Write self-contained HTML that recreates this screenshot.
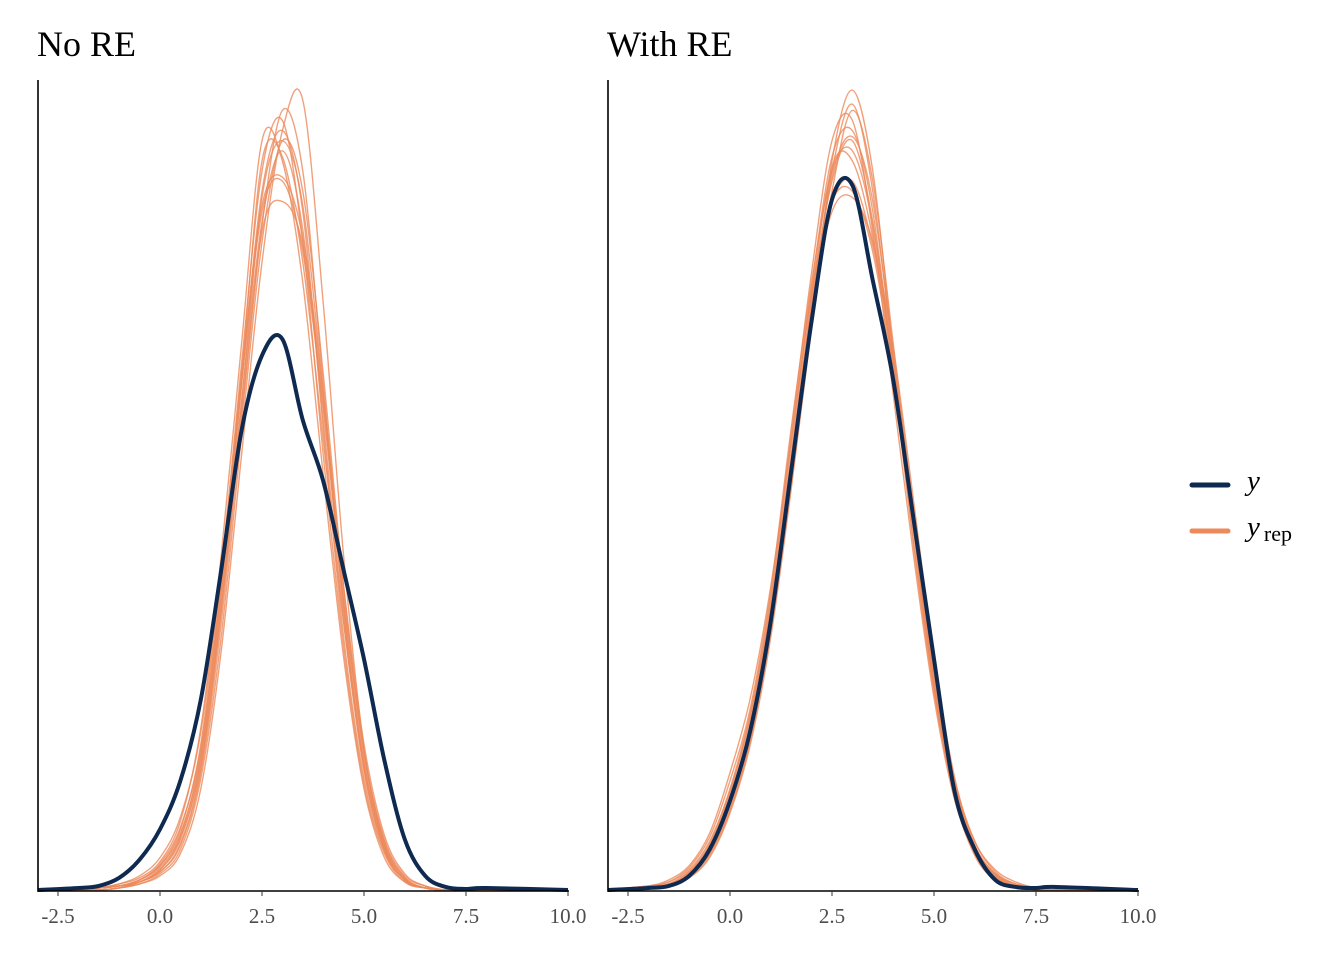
<!DOCTYPE html>
<html><head><meta charset="utf-8"><style>
body{margin:0;background:#fff;}
svg{display:block;font-family:"Liberation Serif",serif;}
</style></head><body>
<svg id="chart" width="1344" height="960" xmlns="http://www.w3.org/2000/svg">
<text x="37" y="56" font-size="36" fill="#000">No RE</text>
<text x="607" y="56" font-size="36" fill="#000">With RE</text>
<g>
<line x1="1192" y1="485" x2="1228" y2="485" stroke="#0f2a50" stroke-width="5" stroke-linecap="round"/>
<text x="1247" y="490" font-size="29" font-style="italic">y</text>
<line x1="1192" y1="531" x2="1228" y2="531" stroke="#ec8a5b" stroke-width="5" stroke-linecap="round"/>
<text x="1247" y="536" font-size="29" font-style="italic">y<tspan font-style="normal" font-size="22" dx="4" dy="5">rep</tspan></text>
</g>
</svg>
<script>
const xGrid=[-3,-2,-1.5,-1,-0.5,0,0.5,1,1.5,2,2.5,3,3.5,4,4.5,5,5.5,6,6.5,7,7.5,8,10];
const xTicks=[-2.5,0,2.5,5,7.5,10];
const xTickLabels=["-2.5","0.0","2.5","5.0","7.5","10.0"];
const yLeft=[0,0.001,0.002,0.006,0.015,0.030,0.054,0.094,0.158,0.227,0.264,0.272,0.232,0.202,0.158,0.114,0.064,0.025,0.007,0.0015,0.0005,0.001,0];
const yRight=[0,0.001,0.002,0.007,0.020,0.044,0.079,0.133,0.207,0.281,0.341,0.348,0.301,0.252,0.183,0.114,0.049,0.020,0.005,0.0015,0.001,0.0015,0];
const repsLeft=[
[0,0,0.001,0.002,0.004,0.010,0.025,0.064,0.143,0.242,0.330,0.365,0.326,0.232,0.133,0.059,0.020,0.005,0.001,0,0,0,0],
[0,0,0.001,0.002,0.005,0.012,0.030,0.072,0.155,0.260,0.355,0.380,0.320,0.215,0.120,0.052,0.018,0.004,0.001,0,0,0,0],
[0,0,0.001,0.003,0.006,0.014,0.034,0.080,0.165,0.270,0.370,0.360,0.300,0.205,0.115,0.050,0.016,0.004,0.001,0,0,0,0],
[0,0,0,0.001,0.003,0.008,0.020,0.055,0.125,0.225,0.320,0.370,0.345,0.255,0.150,0.068,0.024,0.006,0.001,0,0,0,0],
[0,0,0,0.001,0.003,0.007,0.018,0.050,0.118,0.215,0.310,0.375,0.390,0.290,0.165,0.070,0.022,0.005,0.001,0,0,0,0],
[0,0,0.001,0.002,0.004,0.011,0.027,0.068,0.150,0.250,0.335,0.350,0.315,0.238,0.142,0.065,0.023,0.006,0.001,0,0,0,0],
[0,0,0.001,0.002,0.005,0.012,0.028,0.066,0.145,0.250,0.345,0.375,0.335,0.228,0.125,0.055,0.019,0.005,0.001,0,0,0,0],
[0,0,0.001,0.002,0.004,0.010,0.026,0.062,0.138,0.235,0.325,0.340,0.318,0.240,0.145,0.068,0.025,0.007,0.002,0,0,0,0],
[0,0,0,0.001,0.004,0.009,0.022,0.058,0.132,0.232,0.328,0.385,0.355,0.250,0.140,0.060,0.020,0.005,0.001,0,0,0,0],
[0,0,0.001,0.002,0.005,0.013,0.031,0.070,0.150,0.255,0.360,0.362,0.310,0.222,0.132,0.062,0.022,0.006,0.001,0,0,0,0],
[0,0,0.001,0.003,0.007,0.016,0.036,0.078,0.158,0.255,0.338,0.352,0.322,0.245,0.150,0.072,0.027,0.008,0.002,0,0,0,0],
[0,0,0,0.001,0.004,0.009,0.023,0.060,0.138,0.240,0.342,0.370,0.338,0.245,0.138,0.062,0.021,0.005,0.001,0,0,0,0]
];
const repsRight=[
[0,0.001,0.003,0.008,0.020,0.045,0.080,0.135,0.210,0.290,0.350,0.370,0.330,0.260,0.180,0.105,0.050,0.020,0.007,0.002,0.001,0,0],
[0,0.002,0.004,0.010,0.024,0.050,0.088,0.145,0.225,0.305,0.370,0.380,0.325,0.245,0.165,0.095,0.045,0.018,0.006,0.002,0.001,0,0],
[0,0.001,0.002,0.007,0.018,0.040,0.074,0.128,0.200,0.280,0.345,0.385,0.350,0.270,0.185,0.108,0.052,0.021,0.008,0.003,0.001,0,0],
[0,0.001,0.003,0.009,0.022,0.048,0.085,0.140,0.215,0.295,0.340,0.350,0.318,0.262,0.188,0.112,0.055,0.022,0.008,0.002,0.001,0,0],
[0,0.002,0.004,0.011,0.026,0.054,0.090,0.148,0.228,0.300,0.355,0.365,0.328,0.255,0.172,0.100,0.046,0.017,0.005,0.002,0,0,0],
[0,0.001,0.002,0.006,0.016,0.038,0.072,0.125,0.198,0.278,0.360,0.395,0.355,0.265,0.178,0.102,0.048,0.019,0.007,0.002,0.001,0,0],
[0,0.001,0.003,0.008,0.021,0.046,0.082,0.138,0.212,0.288,0.335,0.342,0.320,0.268,0.192,0.115,0.056,0.024,0.009,0.003,0.001,0,0],
[0,0.002,0.003,0.009,0.023,0.049,0.086,0.142,0.220,0.298,0.362,0.375,0.335,0.255,0.170,0.098,0.047,0.018,0.006,0.002,0.001,0,0],
[0,0.001,0.003,0.008,0.019,0.043,0.078,0.132,0.205,0.285,0.352,0.372,0.340,0.265,0.182,0.104,0.050,0.020,0.007,0.002,0.001,0,0],
[0,0.001,0.002,0.007,0.018,0.042,0.077,0.130,0.206,0.292,0.357,0.360,0.322,0.258,0.186,0.110,0.053,0.022,0.008,0.003,0.001,0,0],
[0,0.002,0.005,0.012,0.028,0.058,0.095,0.150,0.222,0.295,0.340,0.345,0.315,0.255,0.180,0.108,0.054,0.024,0.010,0.004,0.001,0,0],
[0,0.001,0.002,0.006,0.017,0.039,0.074,0.128,0.204,0.286,0.355,0.388,0.345,0.262,0.178,0.100,0.047,0.018,0.006,0.002,0.001,0,0]
];
const svg=document.getElementById('chart');
const NS='http://www.w3.org/2000/svg';
const Y0=890, YPX=2025;
function yScale(v){return Y0-v*YPX;}
function makePanel(left,yData,reps,name){
  const xScale=v=>left+20+(v+2.5)*(510/12.5);
  function pathD(vals){
    const p=xGrid.map((x,i)=>[xScale(x),yScale(vals[i])]);
    let d='M'+p[0][0]+','+p[0][1];
    for(let i=0;i<p.length-1;i++){
      const p0=p[Math.max(0,i-1)],p1=p[i],p2=p[i+1],p3=p[Math.min(p.length-1,i+2)];
      const c1=[p1[0]+(p2[0]-p0[0])/6,p1[1]+(p2[1]-p0[1])/6];
      const c2=[p2[0]-(p3[0]-p1[0])/6,p2[1]-(p3[1]-p1[1])/6];
      d+=' C'+c1[0]+','+Math.min(Y0,c1[1])+' '+c2[0]+','+Math.min(Y0,c2[1])+' '+p2[0]+','+p2[1];
    }
    return d;
  }
  const g=document.createElementNS(NS,'g');
  
  
  svg.appendChild(g);
  reps.forEach(r=>{
    const el=document.createElementNS(NS,'path');
    el.setAttribute('d',pathD(r));
    el.setAttribute('fill','none');el.setAttribute('stroke','#ec8a5b');
    el.setAttribute('stroke-width','1.4');el.setAttribute('stroke-opacity','0.8');
    
    
    g.appendChild(el);
  });
  const yl=document.createElementNS(NS,'path');
  yl.setAttribute('d',pathD(yData));
  yl.setAttribute('fill','none');yl.setAttribute('stroke','#0f2a50');yl.setAttribute('stroke-width','4');
  
  
  g.appendChild(yl);
  const ax=document.createElementNS(NS,'path');
  ax.setAttribute('d','M'+left+',80 V'+(Y0+1)+' H'+(left+531));
  ax.setAttribute('fill','none');ax.setAttribute('stroke','#000');ax.setAttribute('stroke-width','1.6');
  
  
  g.appendChild(ax);
  xTicks.forEach((t,i)=>{
    const tk=document.createElementNS(NS,'line');
    tk.setAttribute('x1',xScale(t));tk.setAttribute('x2',xScale(t));
    tk.setAttribute('y1',Y0+1);tk.setAttribute('y2',Y0+6);tk.setAttribute('stroke','#333');
    
    
    g.appendChild(tk);
    const tx=document.createElementNS(NS,'text');
    tx.setAttribute('x',xScale(t));tx.setAttribute('y',923);
    tx.setAttribute('text-anchor','middle');tx.setAttribute('font-size','21');tx.setAttribute('fill','#4d4d4d');
    tx.textContent=xTickLabels[i];
    
    
    g.appendChild(tx);
  });
}
makePanel(38,yLeft,repsLeft,'panel-no-re');
makePanel(608,yRight,repsRight,'panel-with-re');
</script>
</body></html>
